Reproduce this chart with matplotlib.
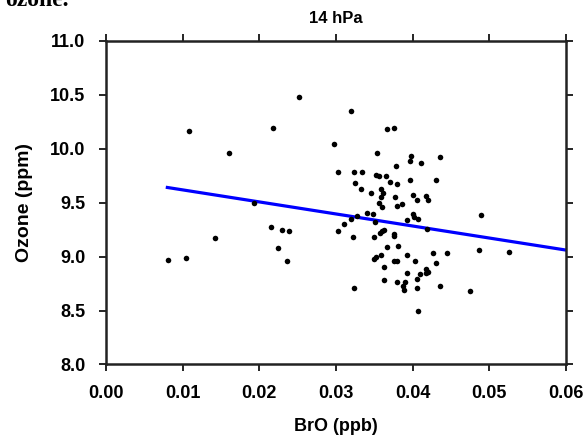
import matplotlib
matplotlib.use("Agg")
import matplotlib.pyplot as plt
import numpy as np

# BrO (ppb) と Ozone (ppm) の散布データ
bro = [0.00805, 0.0104, 0.0108, 0.0142, 0.0160, 0.0193, 0.0218, 0.0215, 0.0229, 0.0239,
       0.0224, 0.0236, 0.0252, 0.0297, 0.0303, 0.0302,
       0.0320, 0.0366, 0.0376, 0.0353, 0.0398, 0.0396, 0.0411, 0.0435, 0.0378, 0.0323,
       0.0334, 0.0352, 0.0356, 0.0365, 0.0325, 0.0370, 0.0379, 0.0396, 0.0431, 0.0332,
       0.0346, 0.0359, 0.0361, 0.0359, 0.0377, 0.0400, 0.0418, 0.0420, 0.0406, 0.0356,
       0.0360, 0.0379, 0.0386, 0.0489, 0.0341, 0.0348, 0.0328, 0.0320, 0.0310, 0.0351,
       0.0400, 0.0402, 0.0407, 0.0392, 0.0419, 0.0360, 0.0362, 0.0358, 0.0376, 0.0375,
       0.0322, 0.0349, 0.0381, 0.0367, 0.0486, 0.0526, 0.0426, 0.0445, 0.0392, 0.0359,
       0.0352, 0.0349, 0.0376, 0.0380, 0.0403, 0.0430, 0.0362, 0.0417, 0.0420, 0.0417,
       0.0392, 0.0409, 0.0405, 0.0363, 0.0379, 0.0390, 0.0388, 0.0389, 0.0405, 0.0323,
       0.0436, 0.0475, 0.0407]
ozone = [8.968, 8.986, 10.16, 9.174, 9.956, 9.493, 10.19, 9.271, 9.243, 9.233,
         9.076, 8.961, 10.48, 10.04, 9.786, 9.240,
         10.349, 10.182, 10.191, 9.956, 9.932, 9.882, 9.870, 9.922, 9.836, 9.780,
         9.780, 9.759, 9.743, 9.746, 9.684, 9.694, 9.672, 9.712, 9.709, 9.629,
         9.586, 9.623, 9.592, 9.549, 9.555, 9.573, 9.561, 9.521, 9.521, 9.499,
         9.456, 9.468, 9.490, 9.388, 9.400, 9.391, 9.375, 9.345, 9.301, 9.323,
         9.391, 9.369, 9.345, 9.335, 9.255, 9.236, 9.246, 9.215, 9.212, 9.187,
         9.181, 9.181, 9.101, 9.091, 9.057, 9.042, 9.030, 9.030, 9.014, 9.014,
         8.999, 8.980, 8.962, 8.959, 8.959, 8.937, 8.906, 8.888, 8.854, 8.844,
         8.844, 8.835, 8.789, 8.779, 8.764, 8.761, 8.727, 8.690, 8.712, 8.712,
         8.724, 8.677, 8.498]

# 回帰直線の両端
fit_x = [0.008, 0.06]
fit_y = [9.64, 9.06]

xticks = [0.00, 0.01, 0.02, 0.03, 0.04, 0.05, 0.06]
yticks = [8.0, 8.5, 9.0, 9.5, 10.0, 10.5, 11.0]

plt.rcParams['font.family'] = ['Liberation Sans', 'DejaVu Sans']

fig = plt.figure(figsize=(5.88, 4.36), dpi=100)
ax = fig.add_axes([0.1803, 0.164, 0.7823, 0.7427])

ax.scatter(bro, ozone, s=16, color='black', marker='o', linewidths=0, zorder=3)
ax.plot(fit_x, fit_y, color='#0000ff', linewidth=2.3, zorder=2)

ax.set_xlim(0, 0.06)
ax.set_ylim(8.0, 11.0)
ax.set_xticks(xticks)
ax.set_yticks(yticks)
ax.set_xticklabels([f"{v:.2f}" for v in xticks], fontweight='bold', fontsize=13)
ax.set_yticklabels([f"{v:.1f}" for v in yticks], fontweight='bold', fontsize=13)
ax.tick_params(axis='x', direction='out', length=5, width=1.2, top=True, pad=10)
ax.tick_params(axis='y', direction='out', length=5, width=1.2, right=True, pad=10)

for s in ax.spines.values():
    s.set_linewidth(1.8)
    s.set_color('#222222')

ax.set_title("14 hPa", fontweight='bold', fontsize=12, pad=13)
ax.set_xlabel("BrO (ppb)", fontweight='bold', fontsize=13, labelpad=11)
ax.set_ylabel("Ozone (ppm)", fontweight='bold', fontsize=14, labelpad=12)

# 上端で切れている本文の文字
fig.text(0.008, 1.0, "ozone.", family=['Liberation Serif', 'DejaVu Serif'],
         fontweight='bold', fontsize=17, va='center', ha='left')

plt.savefig("out.png", dpi=100)
plt.close()
